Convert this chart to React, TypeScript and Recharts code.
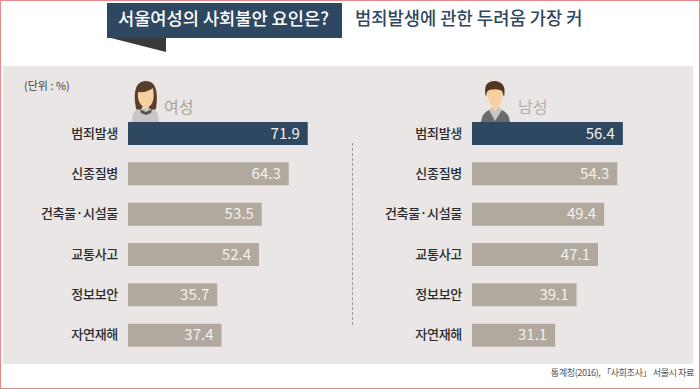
import React from 'react';
import { BarChart, Bar, XAxis, YAxis, Cell, LabelList } from 'recharts';

const FONT = '"Noto Sans CJK KR", "Noto Sans", sans-serif';

const categories = ['범죄발생', '신종질병', '건축물·시설물', '교통사고', '정보보안', '자연재해'];
const womenValues = [71.9, 64.3, 53.5, 52.4, 35.7, 37.4];
const menValues = [56.4, 54.3, 49.4, 47.1, 39.1, 31.1];

const NAVY = '#2f4861';
const TAUPE = '#b1a99e';

const toRows = (values: number[]) =>
  categories.map((name, i) => ({ name, value: values[i] }));

const Panel = ({ values, left, axisWidth, plotWidth }: any) => (
  <div style={{ position: 'absolute', left, top: 112 }}>
    <BarChart
      width={axisWidth + plotWidth}
      height={242}
      layout="vertical"
      data={toRows(values)}
      margin={{ top: 0, right: 0, bottom: 0, left: 0 }}
    >
      <XAxis type="number" domain={[0, 80]} hide />
      <YAxis
        type="category"
        dataKey="name"
        width={axisWidth}
        axisLine={false}
        tickLine={false}
        tickMargin={4}
        interval={0}
        tick={{ fill: '#2b2b2b', fontSize: 13, fontWeight: 500, fontFamily: FONT, letterSpacing: -0.3 }}
      />
      <Bar dataKey="value" barSize={23} isAnimationActive={false}>
        {values.map((_: number, i: number) => (
          <Cell key={i} fill={i === 0 ? NAVY : TAUPE} />
        ))}
        <LabelList
          dataKey="value"
          position="insideRight"
          offset={8}
          formatter={(v: any) => Number(v).toFixed(1)}
          style={{ fill: '#f4f1ec', fontSize: 15, fontFamily: FONT }}
        />
      </Bar>
    </BarChart>
  </div>
);

// drawn in page coordinates through the viewBox
const Woman = () => (
  <svg viewBox="130 79 32 44" width={32} height={44} style={{ position: 'absolute', left: 129, top: 78 }}>
    <path d="M132 122 Q132 110 140 108 L152 108 Q159 110 159 122 Z" fill="#c9c6c3" />
    <path d="M136 109 Q131 81 146 81 Q160 81 156 109 Q150 111 148 106 L143 106 Q141 111 136 109 Z" fill="#5a3d2b" />
    <path d="M138 92 Q147 93 153 88 Q155 100 151 105 Q146 110 141 105 Q137 100 138 92 Z" fill="#f8cfa0" />
    <path d="M140 109 L146 112 L152 109 L151 113 L146 115 L141 113 Z" fill="#55534f" />
  </svg>
);

const Man = () => (
  <svg viewBox="480 79 32 44" width={32} height={44} style={{ position: 'absolute', left: 479, top: 78 }}>
    <path d="M481 122 Q482 113 489 110 L502 110 Q509 113 510 122 Z" fill="#6b6b68" />
    <path d="M489 110 L495 121 L502 110 L499 107 L492 107 Z" fill="#c9c6c3" />
    <path d="M487 86 L503 86 Q503 102 499 106 L495 112 L492 106 Q487 102 487 86 Z" fill="#f8cfa0" />
    <path d="M486 97 Q482 81 495 81 Q507 82 504 97 L502 91 Q498 88 489 90 L487 92 Z" fill="#523722" />
  </svg>
);

const Text = ({ x, y, size, color, weight, children, right, spacing }: any) => (
  <div
    style={{
      position: 'absolute',
      top: y,
      ...(right !== undefined ? { right } : { left: x }),
      fontFamily: FONT,
      fontSize: size,
      lineHeight: `${size + 4}px`,
      color,
      fontWeight: weight ?? 400,
      letterSpacing: spacing ?? 0,
      whiteSpace: 'nowrap',
    }}
  >
    {children}
  </div>
);

export default function App() {
  return (
    <div
      style={{
        position: 'absolute',
        left: 0,
        top: 0,
        width: 700,
        height: 389,
        boxSizing: 'border-box',
        border: '1px solid #e8898d',
        background: '#fff',
        overflow: 'hidden',
      }}
    >
      <div style={{ position: 'absolute', left: 2, top: 65, width: 690, height: 298, background: '#e9e6e5' }} />

      {/* title ribbon */}
      <svg width={240} height={52} style={{ position: 'absolute', left: 106, top: 1 }}>
        <polygon points="0,35 59,35 59,50" fill="#3a3a3a" />
        <rect x={0} y={1} width={235} height={35} fill={NAVY} />
      </svg>
      <Text x={117} y={6} size={17.6} color="#fff" weight={500}>서울여성의 사회불안 요인은?</Text>
      <Text x={354} y={6} size={17.7} color={NAVY} weight={500}>범죄발생에 관한 두려움 가장 커</Text>

      <Text x={23} y={77} size={11} color="#444">(단위 : %)</Text>

      <Woman />
      <Man />
      <Text x={163} y={95} size={16} color="#a8a29a">여성</Text>
      <Text x={517} y={95} size={16} color="#b4aea6">남성</Text>

      <div style={{ position: 'absolute', left: 351, top: 142, height: 182, borderLeft: '1px dashed #9a9a9a' }} />

      <Panel values={womenValues} left={-1} axisWidth={128} plotWidth={200} />
      <Panel values={menValues} left={349} axisWidth={122} plotWidth={214} />

      <Text right={5} y={365} size={9.2} color="#555" spacing={-0.5}>통계청(2016), 「사회조사」 서울시 자료</Text>
    </div>
  );
}
